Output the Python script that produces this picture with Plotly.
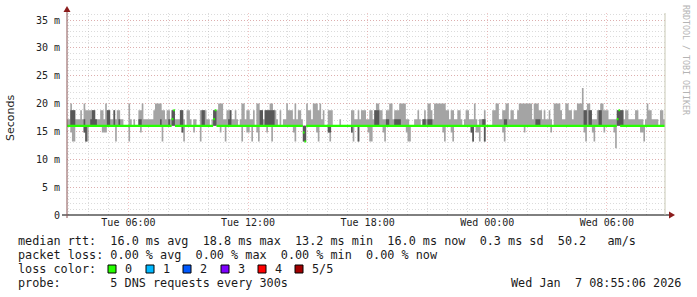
import pandas as pd
import plotly.graph_objects as go

# ---------------- data ----------------
START = "2026-01-06 02:55:06"
END = "2026-01-07 08:55:06"
FIRST_STEP_END = "2026-01-06 03:00:00"
STEP = "5min"

UP_LEVELS = [16.0, 17.2, 18.8, 20.0, 22.8]   # ms, code -> value above median
DN_LEVELS = [16.0, 14.8, 13.2, 12.0]         # ms, code -> value below median
MEDIAN_BASE = 16.0

# slowest ping (p5) per 5-min step
p5_codes = ("1132211121" "3222222111" "2213221121" "2211000310" "1002231111" "1123333221"
            "2212211122" "1022101100" "2222110122" "2333112221" "1210133122" "1120332212"
            "2233221020" "1132221312" "2100322133" "3231200222" "0000100000" "0221121222"
            "1122123322" "1122331222" "3333110001" "1210121332" "1333333322" "1221122101"
            "2211131011" "1200002233" "1122331221" "1233333333" "1333221211" "2103333211"
            "3322122333" "4223321112" "2332221111" "1222212211" "1122111013" "2211110221")
# 4th ping (p4)
p4_codes = ("0022200000" "1000122100" "0000220020" "0100000000" "0001100000" "0000001000"
            "0102200022" "0000000000" "0220000022" "0000000120" "0000000000" "0000002202"
            "2222200000" "0000000000" "0000000000" "0000000000" "0000000000" "0000000000"
            "0000022200" "0011000111" "1000000000" "0000110111" "0000000000" "0000000000"
            "0000000000" "1100000000" "0001100000" "0000000000" "0011100000" "0000000000"
            "0000000000" "0220220000" "2200000000" "0222200000" "0000000000" "0000000000")
# 2nd ping (p2)
p2_codes = ("0000000000" "1200000000" "0000000000" "0000000000" "0000000000" "0000000000"
            "0000000001" "0000000000" "0000000000" "0000000000" "0000000000" "0000000000"
            "0000000000" "0000000000" "0022000000" "0000000110" "0000000000" "0100020000"
            "0000000000" "0000000000" "0000000000" "0000000000" "0000000000" "0000000000"
            "0001200000" "0200000000" "0000000000" "0000000000" "0000000000" "0000000000"
            "0000000000" "0000000000" "0000000000" "0000000000" "0000000000" "0000000000")
# fastest ping (p1)
p1_codes = ("0012200000" "1220000000" "0111000002" "0000000200" "0000100000" "0000000200"
            "0000000001" "2000001000" "2000000000" "0010020000" "0000020011" "0200120000"
            "1002000000" "0000001200" "0022000000" "1200000120" "0000000000" "0120020000"
            "0122000000" "1200000000" "0000122000" "0000000000" "0000001200" "0120000000"
            "0001201120" "0200000000" "0012000000" "0000010000" "0000000000" "0100000000"
            "0000000000" "0120001200" "0001000001" "3000000000" "0000011200" "0000000000")

median_steps = [63, 64, 88, 89, 142, 143, 331, 332]
median_values = [17.2, 18.8, 17.2, 18.8, 14.8, 13.2, 17.2, 18.8]

y_tick_vals = [0, 5, 10, 15, 20, 25, 30, 35]
y_tick_text = ["0", "5 m", "10 m", "15 m", "20 m", "25 m", "30 m", "35 m"]

legend_lines = [
    "median rtt:  16.0 ms avg  18.8 ms max  13.2 ms min  16.0 ms now  0.3 ms sd  50.2   am/s",
    "packet loss: 0.00 % avg  0.00 % max  0.00 % min  0.00 % now",
    "loss color:",
    "probe:       5 DNS requests every 300s",
]
loss_labels = ["0", "1", "2", "3", "4", "5/5"]
loss_colors = ["#26ff00", "#00b8ff", "#0059ff", "#7e00ff", "#ff0000", "#a10000"]
stamp = "Wed Jan  7 08:55:06 2026"

# ---------------- build ----------------
N = len(p5_codes)
assert N == len(p4_codes) == len(p2_codes) == len(p1_codes) == 360

p5 = [UP_LEVELS[int(c)] for c in p5_codes]
p4 = [UP_LEVELS[int(c)] for c in p4_codes]
p2 = [DN_LEVELS[int(c)] for c in p2_codes]
p1 = [DN_LEVELS[int(c)] for c in p1_codes]
median = [MEDIAN_BASE] * N
for s, v in zip(median_steps, median_values):
    median[s] = v

t_end = pd.date_range(FIRST_STEP_END, periods=N, freq=STEP)
t_start = t_end - pd.Timedelta(STEP)
xs = list(t_start) + [t_end[-1]]


def ext(v):
    return list(v) + [v[-1]]


fig = go.Figure()


def band(lo, hi, color):
    fig.add_trace(go.Scatter(x=xs, y=ext(lo), mode="lines", line=dict(width=0, shape="hv"),
                             hoverinfo="skip", showlegend=False))
    fig.add_trace(go.Scatter(x=xs, y=ext(hi), mode="lines", line=dict(width=0, shape="hv"),
                             fill="tonexty", fillcolor=color, hoverinfo="skip", showlegend=False))


HALF = 0.19
band(p1, p5, "#a4a4a4")
band(p2, p4, "#585858")
band([m - HALF for m in median], [m + HALF for m in median], loss_colors[0])

MONO = "DejaVu Sans Mono"
L, R, T, B = 67, 32, 13, 82
W, H = 697, 297
PW, PH = W - L - R, H - T - B


def px(x):
    return (x - L) / PW


def py(y):
    return (H - B - y) / PH


major_grid = "rgba(225,120,120,0.45)"
minor_grid = "rgba(175,175,175,0.45)"

fig.update_layout(
    width=W, height=H,
    margin=dict(l=L, r=R, t=T, b=B, pad=0),
    paper_bgcolor="white", plot_bgcolor="white",
    showlegend=False,
    xaxis=dict(type="date", range=[START, END], tick0="2026-01-06 00:00", dtick=21600000,
               tickformat="%a %H:%M", showgrid=True, gridcolor=major_grid, griddash="1px,2px",
               gridwidth=1, zeroline=False, showline=False, ticks="",
               tickfont=dict(family=MONO, size=10, color="#222"),
               minor=dict(dtick=3600000, tick0="2026-01-06 00:00", showgrid=True,
                          gridcolor=minor_grid, griddash="1px,2px", gridwidth=1)),
    yaxis=dict(range=[0, (H - B - T) / 5.571], tickmode="array", tickvals=y_tick_vals,
               ticktext=y_tick_text, showgrid=True, gridcolor=major_grid, griddash="1px,2px",
               zeroline=False, showline=False, ticks="outside", ticklen=4,
               tickcolor="rgba(0,0,0,0)", tickfont=dict(family=MONO, size=10, color="#222"),
               minor=dict(dtick=1, showgrid=True, gridcolor=minor_grid, griddash="1px,2px")),
)

shapes = [
    # x axis with arrow
    dict(type="line", xref="paper", yref="paper", x0=px(62), x1=px(670), y0=0, y1=0,
         line=dict(color="black", width=1)),
    dict(type="path", xref="paper", yref="paper", xsizemode="pixel", ysizemode="pixel",
         xanchor=px(669), yanchor=0, path="M 0 -3.5 L 6 0 L 0 3.5 Z",
         fillcolor="#8b1c1c", line=dict(width=0)),
    # y axis with arrow
    dict(type="line", xref="paper", yref="paper", x0=0, x1=0, y0=py(218), y1=py(12),
         line=dict(color="#8a5555", width=1)),
    dict(type="path", xref="paper", yref="paper", xsizemode="pixel", ysizemode="pixel",
         xanchor=0, yanchor=py(12), path="M -3.5 0 L 0 6 L 3.5 0 Z",
         fillcolor="#8b1c1c", line=dict(width=0)),
    # right edge
    dict(type="line", xref="paper", yref="paper", x0=1, x1=1, y0=0, y1=1,
         line=dict(color="#c8c8b4", width=1)),
]

annotations = [
    dict(text="Seconds", xref="paper", yref="paper", x=px(10), y=py(118), textangle=-90,
         showarrow=False, font=dict(family="DejaVu Sans", size=11, color="#222"),
         xanchor="center", yanchor="middle"),
    dict(text="RRDTOOL / TOBI OETIKER", xref="paper", yref="paper", x=px(686), y=py(60),
         textangle=90, showarrow=False, font=dict(family=MONO, size=8.3, color="#b4b4b4"),
         xanchor="center", yanchor="middle"),
]
rows = [241, 255, 269, 283]
TXT = "#1a1a1a"
FS = 11.8
for text, r in zip(legend_lines, rows):
    annotations.append(dict(text=text.replace(" ", "\u00a0"), xref="paper", yref="paper",
                            x=px(16), y=py(r), showarrow=False, xanchor="left", yanchor="middle",
                            font=dict(family=MONO, size=FS, color=TXT)))
annotations.append(dict(text=stamp.replace(" ", "\u00a0"), xref="paper", yref="paper",
                        x=px(683), y=py(rows[3]), showarrow=False, xanchor="right",
                        yanchor="middle", font=dict(family=MONO, size=FS, color=TXT)))

sq_x = [108, 146, 183, 221, 258, 295]
for lab, col, sx in zip(loss_labels, loss_colors, sq_x):
    shapes.append(dict(type="rect", xref="paper", yref="paper", x0=px(sx), x1=px(sx + 8),
                       y0=py(rows[2] + 4), y1=py(rows[2] - 4), fillcolor=col,
                       line=dict(color="black", width=1)))
    annotations.append(dict(text=lab, xref="paper", yref="paper", x=px(sx + 15),
                            y=py(rows[2]), showarrow=False, xanchor="left", yanchor="middle",
                            font=dict(family=MONO, size=FS, color=TXT)))

fig.update_layout(shapes=shapes, annotations=annotations)
fig.write_html("out.html")
